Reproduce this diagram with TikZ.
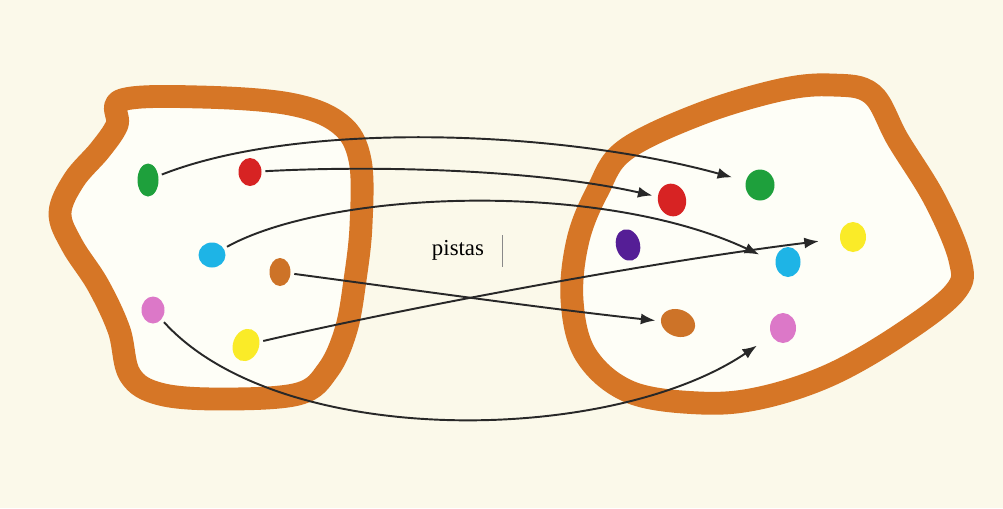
\documentclass[tikz,border=0pt]{standalone}
\usepackage{fontspec}
\usepackage{tikz}
\usetikzlibrary{arrows.meta,positioning,shapes.geometric}
\newfontfamily\labelfont{Liberation Serif}
\definecolor{paper}{RGB}{251,249,234}
\definecolor{inside}{RGB}{254,254,247}
\definecolor{rim}{RGB}{214,118,38}
\definecolor{ink}{RGB}{40,40,40}
\definecolor{cgreen}{RGB}{30,160,60}
\definecolor{cred}{RGB}{215,35,35}
\definecolor{ccyan}{RGB}{30,180,230}
\definecolor{cbrown}{RGB}{205,115,40}
\definecolor{cpink}{RGB}{220,120,200}
\definecolor{cyellow}{RGB}{250,235,40}
\definecolor{cpurple}{RGB}{85,30,150}

\begin{document}
\begin{tikzpicture}[x=0.02cm, y=-0.02cm,
  spot/.style={ellipse, inner sep=0pt, minimum width=0.48cm, minimum height=0.6cm},
  blob/.style={draw=rim, fill=inside, line width=13pt, line join=round},
  track/.style={-{Latex[length=2.9mm, width=2.2mm]}, line width=1.1pt, draw=ink,
    shorten >=3pt, shorten <=2pt}
]
\fill[paper] (0,0) rectangle (1003,508);
\useasboundingbox (0,0) rectangle (1003,508);

% The two sets.
\draw[blob] plot[smooth cycle, tension=0.6] coordinates {
  (122,100) (200,97) (290,104) (340,124) (360,160) (361,225) (355,280)
  (346,330) (328,370) (298,394) (220,399) (160,394) (130,375) (119,330)
  (98,285) (72,245) (60,213) (74,180) (100,150) (117,125)};
\draw[blob] plot[smooth cycle, tension=0.6] coordinates {
  (625,150) (700,114) (780,90) (832,85) (872,94) (898,140) (935,200)
  (960,260) (955,292) (900,335) (830,375) (760,398) (700,403) (630,392)
  (586,355) (572,300) (578,240) (598,190)};

% Left set.
\node[spot, fill=cgreen, minimum width=0.42cm, minimum height=0.66cm] (gL) at (148,180) {};
\node[spot, fill=cred, minimum width=0.46cm, minimum height=0.56cm] (rL) at (250,172) {};
\node[spot, fill=ccyan, minimum width=0.54cm, minimum height=0.5cm] (cL) at (212,255) {};
\node[spot, fill=cbrown, minimum width=0.42cm, minimum height=0.56cm] (oL) at (280,272) {};
\node[spot, fill=cpink, minimum width=0.46cm, minimum height=0.54cm] (pL) at (153,310) {};
\node[spot, fill=cyellow, rotate=-20, minimum width=0.52cm, minimum height=0.66cm] (yL) at (246,345) {};

% Right set.
\node[spot, fill=cgreen, minimum width=0.58cm, minimum height=0.62cm] (gR) at (760,185) {};
\node[spot, fill=cred, rotate=15, minimum width=0.56cm, minimum height=0.66cm] (rR) at (672,200) {};
\node[spot, fill=cpurple, rotate=15, minimum width=0.48cm, minimum height=0.64cm] (vR) at (628,245) {};
\node[spot, fill=cyellow, minimum width=0.52cm, minimum height=0.6cm] (yR) at (853,237) {};
\node[spot, fill=ccyan, minimum width=0.5cm, minimum height=0.6cm] (cR) at (788,262) {};
\node[spot, fill=cbrown, rotate=-20, minimum width=0.7cm, minimum height=0.54cm] (oR) at (678,323) {};
\node[spot, fill=cpink, minimum width=0.52cm, minimum height=0.6cm] (pR) at (783,328) {};

% Label.
\node[font=\labelfont\fontsize{13}{15}\selectfont, text=black] (lbl) at (458,250) {pistas};
\draw[ink!55, line width=0.5pt] (502,235) -- (502,267);

% Mapping.
\draw[track, shorten >=8pt] (gL) .. controls (300,120) and (560,130) .. (gR);
\draw[track] (rL) .. controls (380,165) and (540,170) .. (rR);
\draw[track, shorten >=10pt] (cL) .. controls (330,190) and (600,180) .. (cR.west);
\draw[track] (oL) .. controls (400,288) and (540,308) .. (oR);
\draw[track, shorten >=12pt] (yL) .. controls (400,309) and (650,262) .. (yR);
\draw[track, shorten >=10pt] (pL) .. controls (280,450) and (610,445) .. (pR);

\end{tikzpicture}
\end{document}
